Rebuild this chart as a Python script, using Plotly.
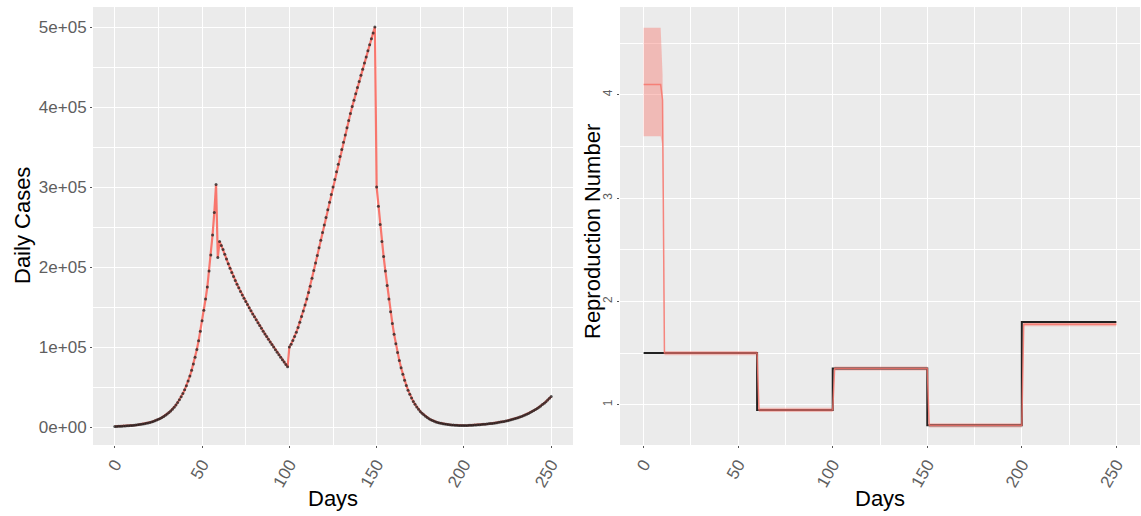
import plotly.graph_objects as go

# ---- data: daily case counts (days 0..250) ----
days = list(range(0, 251))
daily_cases = [
    700, 780, 860, 960, 1070, 1180, 1310, 1460, 1620, 1800,
    2000, 2220, 2460, 2740, 3040, 3370, 3750, 4160, 4620, 5130,
    5700, 6330, 7030, 7810, 8670, 9630, 10700, 11900, 13200, 14700,
    16300, 18100, 20100, 22300, 24800, 27500, 30600, 34000, 37700, 41900,
    46500, 51700, 57400, 63700, 70800, 78600, 87300, 97000, 107700, 119600,
    132800, 146000, 160000, 175000, 195000, 215000, 240000, 268000, 303000, 212000,
    232000, 227000, 222000, 216000, 210000, 204000, 198500, 193000, 188000, 183000,
    178500, 174000, 169500, 165000, 161000, 157000, 153000, 149000, 145200, 141400,
    137700, 134000, 130400, 126800, 123300, 119800, 116400, 113000, 109700, 106400,
    103100, 99900, 96700, 93500, 90400, 87300, 84200, 81200, 78200, 75200,
    100000, 103500, 108000, 113000, 118500, 124500, 131000, 138000, 145000, 152500,
    160000, 168000, 176000, 186000, 195500, 205000, 214500, 224000, 233500, 243000,
    252500, 262000, 271500, 281000, 290500, 300000, 309500, 319000, 328500, 338000,
    347000, 356000, 365000, 374000, 383000, 392000, 400500, 408500, 416500, 424300,
    432000, 439700, 447300, 455000, 462600, 470200, 477700, 485200, 492600, 500000,
    300000, 276000, 253000, 232000, 213000, 195000, 177000, 160000, 144000, 129500,
    116000, 104000, 93000, 83000, 74000, 66000, 58500, 52000, 46000, 40800,
    36100, 32000, 28300, 25000, 22100, 19500, 17200, 15200, 13400, 11800,
    10400, 9200, 8100, 7200, 6400, 5700, 5100, 4600, 4100, 3700,
    3400, 3100, 2800, 2600, 2400, 2250, 2100, 2000, 1900, 1850,
    1800, 1850, 1950, 2050, 2150, 2300, 2450, 2600, 2750, 2950,
    3100, 3300, 3500, 3750, 4000, 4250, 4500, 4800, 5100, 5450,
    5800, 6200, 6600, 7000, 7450, 7950, 8450, 9000, 9600, 10200,
    10900, 11600, 12400, 13200, 14100, 15000, 16000, 17000, 18100, 19300,
    20500, 21800, 23200, 24700, 26300, 28000, 29800, 31700, 33700, 35800,
    38000,
]

# ---- data: reproduction number ----
# true R as a step function (value holds until the next change day)
r_change_days = [0, 60, 100, 150, 200, 250]
r_true = [1.5, 0.95, 1.35, 0.8, 1.8, 1.8]

# estimated R with credible interval
r_est_days = [0, 9, 10, 11, 60, 61, 100, 101, 150, 151, 200, 201, 250]
r_est = [4.1, 4.1, 3.95, 1.5, 1.5, 0.95, 0.95, 1.35, 1.35, 0.8, 0.8, 1.78, 1.78]
r_est_lower = [3.6, 3.6, 3.5, 1.48, 1.48, 0.93, 0.93, 1.33, 1.33, 0.78, 0.78, 1.76, 1.76]
r_est_upper = [4.65, 4.65, 4.2, 1.52, 1.52, 0.97, 0.97, 1.37, 1.37, 0.82, 0.82, 1.80, 1.80]

case_ticks = [0, 100000, 200000, 300000, 400000, 500000]
case_tick_labels = ["0e+00", "1e+05", "2e+05", "3e+05", "4e+05", "5e+05"]
day_ticks = [0, 50, 100, 150, 200, 250]
r_ticks = [1, 2, 3, 4]

RED = "#F8766D"
FONT = "Liberation Sans"
TICK_COLOR = "#5f5f5f"
PANEL = "#EBEBEB"

fig = go.Figure()

# left panel: fitted curve + observed points
fig.add_trace(go.Scatter(
    x=days, y=daily_cases, mode="lines",
    line=dict(color=RED, width=2.2), xaxis="x", yaxis="y", showlegend=False))
fig.add_trace(go.Scatter(
    x=days, y=daily_cases, mode="markers",
    marker=dict(color="rgba(30,30,30,0.75)", size=3), xaxis="x", yaxis="y",
    showlegend=False))

# right panel: interval ribbon, true R, estimated R
fig.add_trace(go.Scatter(
    x=r_est_days, y=r_est_lower, mode="lines", line=dict(width=0),
    xaxis="x2", yaxis="y2", showlegend=False, hoverinfo="skip"))
fig.add_trace(go.Scatter(
    x=r_est_days, y=r_est_upper, mode="lines", line=dict(width=0),
    fill="tonexty", fillcolor="rgba(248,118,109,0.42)",
    xaxis="x2", yaxis="y2", showlegend=False, hoverinfo="skip"))
fig.add_trace(go.Scatter(
    x=r_change_days, y=r_true, mode="lines", line_shape="hv",
    line=dict(color="#222222", width=2), xaxis="x2", yaxis="y2",
    showlegend=False))
fig.add_trace(go.Scatter(
    x=r_est_days, y=r_est, mode="lines",
    line=dict(color=RED, width=1.5), opacity=0.85, xaxis="x2", yaxis="y2",
    showlegend=False))

tickfont = dict(family=FONT, size=17, color=TICK_COLOR)
common = dict(
    showline=False, zeroline=False, showgrid=True, gridcolor="white",
    gridwidth=1.2, ticks="outside", ticklen=2, tickcolor="#555",
    tickfont=tickfont,
)

x_left = (93 / 1141, 573 / 1141)
x_right = (620 / 1141, 1140 / 1141)
y_dom = (1 - 445 / 516, 1 - 7 / 516)

fig.update_layout(
    width=1141, height=516,
    margin=dict(l=0, r=0, t=0, b=0),
    paper_bgcolor="white", plot_bgcolor=PANEL,
    font=dict(family=FONT),
    xaxis=dict(domain=x_left, range=[-12.5, 262.5], tickmode="array",
               tickvals=day_ticks, ticktext=[str(v) for v in day_ticks],
               tickangle=-60, anchor="y",
               minor=dict(tickvals=[25, 75, 125, 175, 225], showgrid=True,
                          gridcolor="white", gridwidth=0.6, ticks=""),
               **common),
    yaxis=dict(domain=y_dom, range=[-22500, 525000], tickmode="array",
               tickvals=case_ticks, ticktext=case_tick_labels, anchor="x",
               minor=dict(tickvals=[50000, 150000, 250000, 350000, 450000],
                          showgrid=True, gridcolor="white", gridwidth=0.6,
                          ticks=""),
               **common),
    xaxis2=dict(domain=x_right, range=[-12.5, 262.5], tickmode="array",
                tickvals=day_ticks, ticktext=[str(v) for v in day_ticks],
                tickangle=-60, anchor="y2",
                minor=dict(tickvals=[25, 75, 125, 175, 225], showgrid=True,
                           gridcolor="white", gridwidth=0.6, ticks=""),
                **common),
    yaxis2=dict(domain=y_dom, range=[0.61, 4.85], tickmode="array",
                tickvals=r_ticks, ticktext=[str(v) for v in r_ticks],
                tickangle=-90, anchor="x2",
                minor=dict(tickvals=[1.5, 2.5, 3.5, 4.5], showgrid=True,
                           gridcolor="white", gridwidth=0.6, ticks=""),
                **{**common, "tickfont": dict(family=FONT, size=12,
                                              color=TICK_COLOR)}),
)

title_font = dict(family=FONT, size=22, color="black")
fig.add_annotation(text="Days", x=333 / 1141, y=1 - 498 / 516,
                   xref="paper", yref="paper", showarrow=False,
                   font=title_font, xanchor="center", yanchor="middle")
fig.add_annotation(text="Days", x=880 / 1141, y=1 - 498 / 516,
                   xref="paper", yref="paper", showarrow=False,
                   font=title_font, xanchor="center", yanchor="middle")
fig.add_annotation(text="Daily Cases", x=22 / 1141, y=1 - 226 / 516,
                   xref="paper", yref="paper", showarrow=False, textangle=-90,
                   font=title_font, xanchor="center", yanchor="middle")
fig.add_annotation(text="Reproduction Number", x=592 / 1141, y=1 - 232 / 516,
                   xref="paper", yref="paper", showarrow=False, textangle=-90,
                   font=title_font, xanchor="center", yanchor="middle")

fig.write_html("out.html")
